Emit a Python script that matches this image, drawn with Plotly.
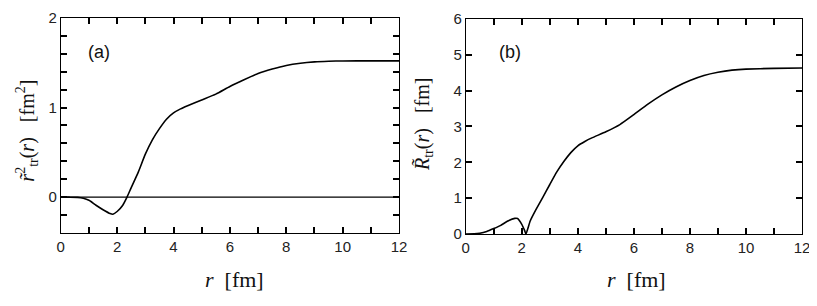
import plotly.graph_objects as go
from plotly.subplots import make_subplots

# Panel (a): r~^2_tr(r) [fm^2]
r_a = [0, 0.3, 0.6, 0.8, 1.0, 1.25, 1.5, 1.75, 1.85, 2.0, 2.2, 2.35, 2.5, 2.75, 3.0, 3.25, 3.5,
       3.75, 4.0, 4.25, 4.5, 5.0, 5.5, 6.0, 6.5, 7.0, 7.5, 8.0, 8.5, 9.0, 9.5, 10.0, 11.0, 12.0]
val_a = [0, 0, -0.002, -0.012, -0.035, -0.09, -0.14, -0.183, -0.19, -0.16, -0.09, 0.0, 0.107, 0.28,
         0.48, 0.64, 0.765, 0.87, 0.94, 0.985, 1.02, 1.085, 1.15, 1.235, 1.31, 1.38, 1.43, 1.47,
         1.495, 1.51, 1.517, 1.52, 1.521, 1.521]

# Panel (b): R~_tr(r) [fm]
r_b = [0, 0.3, 0.5, 0.75, 1.0, 1.25, 1.5, 1.75, 1.85, 2.0, 2.1, 2.15, 2.3, 2.5, 2.75, 3.0, 3.25,
       3.5, 3.75, 4.0, 4.25, 4.5, 5.0, 5.5, 6.0, 6.5, 7.0, 7.5, 8.0, 8.5, 9.0, 9.5, 10.0, 11.0, 12.0]
val_b = [0, 0.003, 0.02, 0.07, 0.15, 0.24, 0.36, 0.435, 0.43, 0.27, 0.1, 0.0, 0.36, 0.67, 1.02,
         1.38, 1.73, 2.02, 2.27, 2.46, 2.58, 2.68, 2.85, 3.05, 3.33, 3.62, 3.88, 4.1, 4.28, 4.42,
         4.51, 4.57, 4.6, 4.62, 4.63]

# tick steps (labels 0..12 by 2 on x; 0,1,2 on y(a); 0..6 on y(b))
x_step, x_minor = 2, 1
ya_step, ya_minor = 1, 0.2
yb_step = 1

# page body has an 8px margin; figure sized to fit the 817x306 window
W, H, OFF = 809, 298, 8
ML, MR, MT, MB = 4, 4, 0, 4
PW, PH = W - ML - MR, H - MT - MB


def px(x):
    return (x - OFF - ML) / PW


def py(y):
    return 1 - (y - OFF - MT) / PH


fig = make_subplots(rows=1, cols=2)
line = dict(color="black", width=1.6)
fig.add_trace(go.Scatter(x=r_a, y=val_a, mode="lines", line=dict(line, shape="spline", smoothing=0.6),
                         showlegend=False), row=1, col=1)
fig.add_trace(go.Scatter(x=r_b, y=val_b, mode="lines", line=dict(line, shape="spline", smoothing=0.4),
                         showlegend=False), row=1, col=2)

tickfont = dict(family="Liberation Sans, Arial", size=15, color="#222")
tk = dict(ticks="inside", ticklen=6, tickwidth=1.5, tickcolor="#000000")

fig.update_xaxes(range=[0, 12], tick0=0, dtick=x_step,
                 showline=True, linecolor="#000000", mirror="allticks",
                 tickfont=tickfont, ticklabeloverflow="allow",
                 minor=dict(dtick=x_minor, tick0=0, **tk), **tk)
fig.update_xaxes(domain=[px(61), px(401)], row=1, col=1)
fig.update_xaxes(domain=[px(468), px(806)], row=1, col=2)

fig.update_yaxes(showline=True, linecolor="#000000", mirror="allticks",
                 tickfont=tickfont, ticklabeloverflow="allow", tick0=0, **tk)
fig.update_yaxes(range=[-0.4, 2], dtick=ya_step, domain=[py(234), min(1, py(9))],
                 minor=dict(dtick=ya_minor, tick0=0, **tk), row=1, col=1)
fig.update_yaxes(range=[0, 6], dtick=yb_step, domain=[py(235), min(1, py(10))], row=1, col=2)

# zero line in panel (a)
fig.add_shape(type="line", xref="x", yref="y", x0=0, x1=12, y0=0, y1=0,
              line=dict(color="black", width=1.2))

serif = "Liberation Serif, Times New Roman"
annots = [
    dict(text="(a)", x=px(99), y=py(45), font=dict(family="Liberation Sans, Arial", size=18, color="#111")),
    dict(text="(b)", x=px(513), y=py(45), font=dict(family="Liberation Sans, Arial", size=18, color="#111")),
    dict(text="<i>r</i>  [fm]", x=px(236), y=py(283), font=dict(family=serif, size=22, color="#111")),
    dict(text="<i>r</i>  [fm]", x=px(640), y=py(283), font=dict(family=serif, size=22, color="#111")),
    dict(text="<i>r\u0303</i><sup>2</sup><sub>tr</sub>(<i>r</i>)   [fm<sup>2</sup>]", x=px(27), y=py(127),
         textangle=-90, font=dict(family=serif, size=20, color="#111")),
    dict(text="<i>R\u0303</i><sub>tr</sub>(<i>r</i>)   [fm]", x=px(425), y=py(120),
         textangle=-90, font=dict(family=serif, size=20, color="#111")),
]
for a in annots:
    fig.add_annotation(xref="paper", yref="paper", xanchor="center", yanchor="middle", showarrow=False, **a)

fig.update_layout(width=W, height=H, margin=dict(l=ML, r=MR, t=MT, b=MB),
                  paper_bgcolor="white", plot_bgcolor="white",
                  xaxis_showgrid=False, xaxis2_showgrid=False, yaxis_showgrid=False, yaxis2_showgrid=False,
                  xaxis_zeroline=False, xaxis2_zeroline=False, yaxis_zeroline=False, yaxis2_zeroline=False)
fig.write_html("out.html")
